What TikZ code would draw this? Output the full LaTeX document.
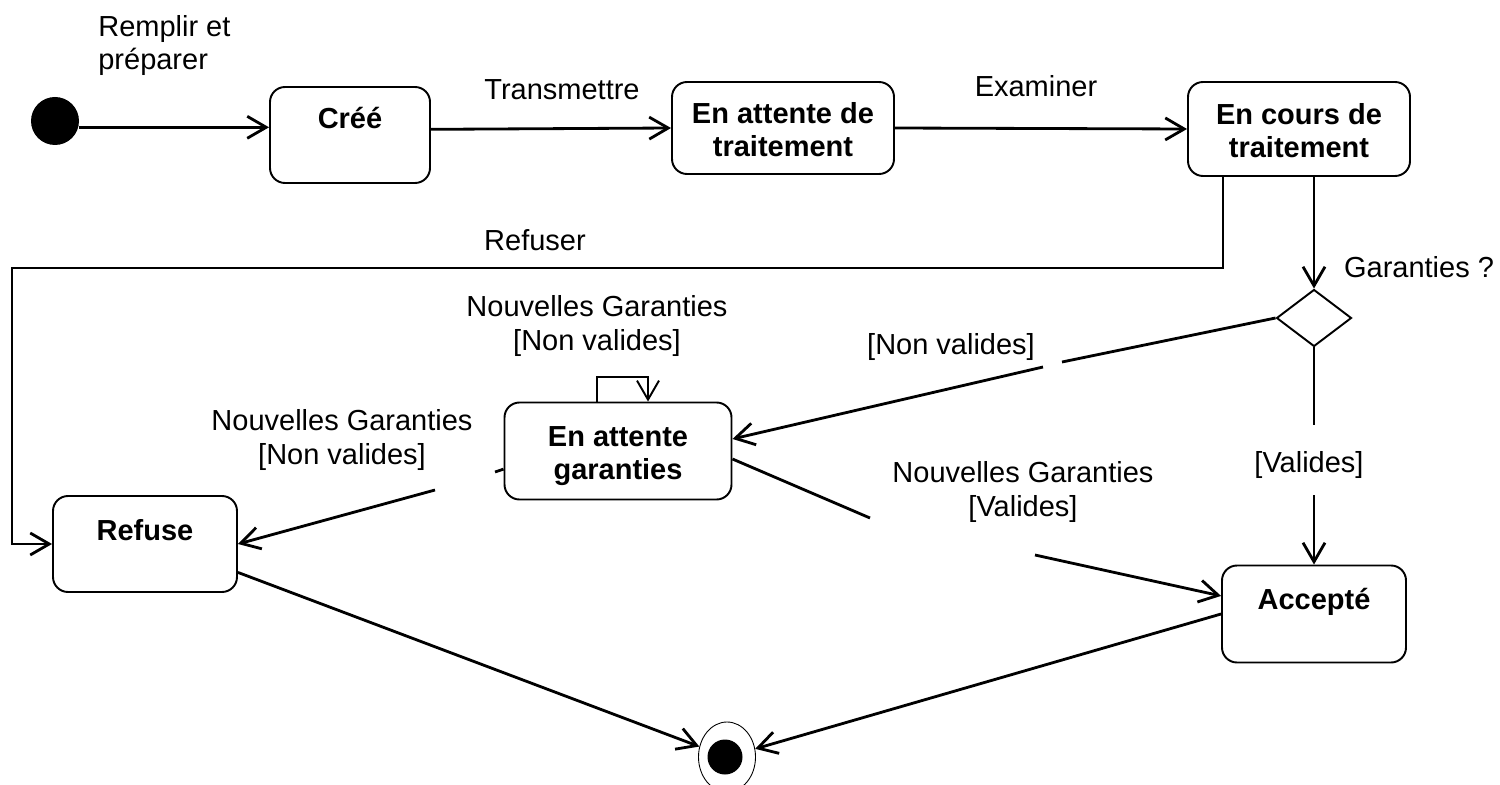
\documentclass[tikz,border=0pt]{standalone}
\usepackage{fontspec}
\setmainfont{Liberation Sans}
\usetikzlibrary{arrows.meta,shapes.geometric,positioning,calc}

\newcommand\diagfont{\fontsize{16.5}{18.8}\selectfont}

\tikzset{
  state/.style={draw, rounded corners=3mm, line width=1.1pt, inner sep=0pt},
  statetext/.style={font=\diagfont\bfseries, align=center, inner sep=0pt},
  initial/.style={circle, fill=black, inner sep=0pt, minimum size=9.6mm},
  final/.style={ellipse, draw, line width=0.5pt, inner sep=0pt, minimum width=11.4mm, minimum height=14mm},
  choice/.style={diamond, draw, line width=1.1pt, inner sep=0pt, aspect=1.3, minimum width=15mm, minimum height=11.4mm},
  plain/.style={line width=1.6pt},
  trans/.style={line width=1.6pt, -{Straight Barb[length=3.8mm,width=4.4mm]}},
  lbl/.style={font=\diagfont, align=center, inner sep=0pt},
}

\begin{document}
\begin{tikzpicture}[x=0.2mm, y=-0.2mm]
  \useasboundingbox (0,0) rectangle (1500,785);

  % states
  \node[initial] (init) at (55,121) {};
  \node[state, minimum width=32mm, minimum height=19.2mm] (cree) at (350,135) {};
  \node[statetext, below=4.2mm of cree.north] (cree-t) {Créé};
  \node[state, minimum width=44.4mm, minimum height=18.4mm] (eat) at (783,128) {};
  \node[statetext, below=4.2mm of eat.north] (eat-t) {En attente de\\traitement};
  \node[state, minimum width=44.4mm, minimum height=18.8mm] (ect) at (1299,129) {};
  \node[statetext, below=4.4mm of ect.north] (ect-t) {En cours de\\traitement};
  \node[choice] (dec) at (1314,318) {};
  \node[state, minimum width=45.4mm, minimum height=19.4mm] (eag) at (618,451) {};
  \node[statetext, below=5mm of eag.north] (eag-t) {En attente\\garanties};
  \node[state, minimum width=36.8mm, minimum height=19.2mm] (ref) at (145,544) {};
  \node[statetext, below=4.8mm of ref.north] (ref-t) {Refuse};
  \node[state, minimum width=36.8mm, minimum height=19.4mm] (acc) at (1314,614) {};
  \node[statetext, below=4.6mm of acc.north] (acc-t) {Accepté};
  \node[final] (fin) at (727,757) {};
  \node[initial, minimum size=7mm] (fin-dot) at (725,757) {};

  % top row
  \node[lbl, align=left, anchor=north west] (remplir) at (98,15) {Remplir et\\préparer};
  \draw[trans] (init.-15) -- (init.-15 -| cree.west);
  \node[lbl] (transmettre) at (562,90) {Transmettre};
  \draw[trans] (cree.4) -- (eat.west);
  \node[lbl] (examiner) at (1036,86) {Examiner};
  \draw[trans] (eat.east) -- (ect.west);

  % refus
  \coordinate (rf-top) at (12,268);
  \draw[trans] ($(ect.south west)+(36,0)$) |- (rf-top) |- (ref.west);
  \node[lbl] (refuser) at (535,240) {Refuser};

  % garanties
  \draw[trans] (dec.north |- ect.south) -- (dec.north);
  \node[lbl] (garanties) at (1419,267) {Garanties ?};

  \coordinate (nv-a) at (1062,362);
  \coordinate (nv-b) at (1043,367);
  \draw[plain] (dec.west) -- (nv-a);
  \draw[trans] (nv-b) -- (eag.6);
  \node[lbl] (nonval) at (951,347) {[Non valides]};

  \coordinate (va-a) at (1314,425);
  \coordinate (va-b) at (1314,495);
  \draw[plain] (dec.south) -- (va-a);
  \draw[trans] (va-b) -- (acc.north);
  \node[lbl] (valides) at (1309,465) {[Valides]};

  % nouvelles garanties
  \draw[trans, line width=1.1pt] ($(eag.north)+(-21,0)$) -- ++(0,-25) -| ($(eag.north)+(30,0)$);
  \node[lbl] (loop-lbl) at (597,326) {Nouvelles Garanties\\{[Non valides]}};

  \coordinate (ng-a) at (495,472);
  \coordinate (ng-b) at (435,490);
  \draw[plain] (eag.189) -- (ng-a);
  \draw[trans] (ng-b) -- (ref.east);
  \node[lbl] (ng-nv) at (342,440) {Nouvelles Garanties\\{[Non valides]}};

  \coordinate (nv2-a) at (870,518);
  \coordinate (nv2-b) at (1035,555);
  \draw[plain] (eag.-4) -- (nv2-a);
  \draw[trans] (nv2-b) -- (acc.169);
  \node[lbl] (ng-v) at (1023,492) {Nouvelles Garanties\\{[Valides]}};

  % fin
  \draw[trans] (ref.-17) -- (fin);
  \draw[trans] (acc.west) -- (fin);
\end{tikzpicture}
\end{document}
